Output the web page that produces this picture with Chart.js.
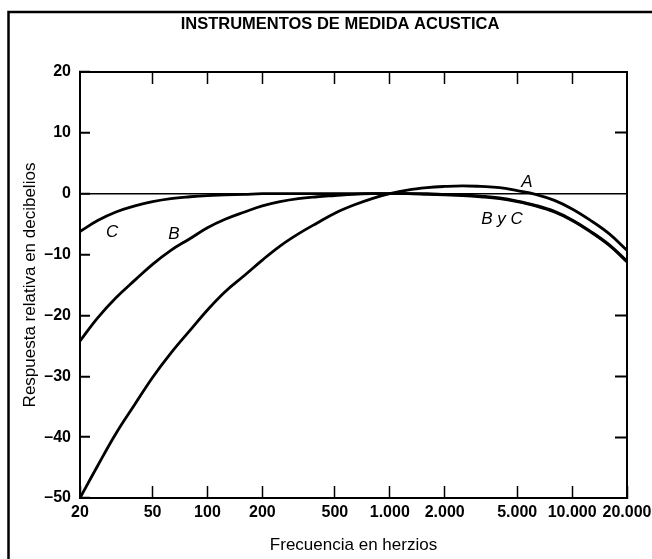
<!DOCTYPE html>
<html>
<head>
<meta charset="utf-8">
<title>Instrumentos de medida acustica</title>
<script src="https://cdn.jsdelivr.net/npm/chart.js@4.4.1/dist/chart.umd.min.js"></script>
<style>
  body { margin: 0; background: #fff; }
</style>
</head>
<body>
<canvas id="weighting" width="652" height="559"></canvas>
<script>
const frequencies = [20, 25, 31.5, 40, 50, 63, 80, 100, 125, 160, 200, 250, 315, 400, 500, 630, 800,
  1000, 1250, 1600, 2000, 2500, 3150, 4000, 5000, 6300, 8000, 10000, 12500, 16000, 20000];
const curveA = [-50, -44.7, -39.4, -34.6, -30.2, -26.2, -22.5, -19.1, -16.1, -13.4, -10.9, -8.6, -6.6, -4.8, -3.2, -1.9, -0.8,
  0, 0.6, 1.0, 1.2, 1.3, 1.2, 1.0, 0.5, -0.1, -1.1, -2.5, -4.3, -6.6, -9.3];
const curveB = [-24.2, -20.4, -17.1, -14.2, -11.6, -9.3, -7.4, -5.6, -4.2, -3.0, -2.0, -1.3, -0.8, -0.5, -0.3, -0.1, 0,
  0, 0, 0, -0.1, -0.2, -0.4, -0.7, -1.2, -1.9, -2.9, -4.3, -6.1, -8.4, -11.1];
const curveC = [-6.2, -4.4, -3.0, -2.0, -1.3, -0.8, -0.5, -0.3, -0.2, -0.1, 0, 0, 0, 0, 0, 0, 0,
  0, 0, -0.1, -0.2, -0.3, -0.5, -0.8, -1.3, -2.0, -3.0, -4.4, -6.2, -8.5, -11.2];

const xTicks = [20, 50, 100, 200, 500, 1000, 2000, 5000, 10000, 20000];
const xTickLabels = ['20', '50', '100', '200', '500', '1.000', '2.000', '5.000', '10.000', '20.000'];
const topTicks = [50, 100, 200, 500, 1000, 2000, 5000, 10000];
const yTicks = [20, 10, 0, -10, -20, -30, -40, -50];
const yTickLabels = ['20', '10', '0', '\u201310', '\u201320', '\u201330', '\u201340', '\u201350'];
const rightTicks = [10, -20, -30, -40];

// etiquetas de las curvas: [texto, Hz, dB]
const curveLabels = [
  ['A', 5660, 1.9],
  ['B y C', 4130, -4.2],
  ['C', 30, -6.4],
  ['B', 65.5, -6.7]
];

const FONT = '"Liberation Sans", Arial, sans-serif';

function toPoints(values) {
  return frequencies.map((f, i) => ({ x: f, y: values[i] }));
}

function curve(label, values) {
  return {
    label: label,
    data: toPoints(values),
    borderColor: '#000',
    borderWidth: 2.8,
    pointRadius: 0,
    fill: false,
    tension: 0.4
  };
}

const framePlugin = {
  id: 'frame',
  afterDraw(chart) {
    const ctx = chart.ctx;
    ctx.save();
    ctx.strokeStyle = '#000';
    ctx.lineWidth = 2.5;
    ctx.strokeRect(8.5, 12, 700, 600);
    ctx.restore();
  }
};

const curveLabelPlugin = {
  id: 'curveLabels',
  afterDatasetsDraw(chart) {
    const ctx = chart.ctx;
    const xs = chart.scales.x;
    const ys = chart.scales.y;
    ctx.save();
    ctx.fillStyle = '#000';
    ctx.font = 'italic 17px ' + FONT;
    ctx.textAlign = 'center';
    ctx.textBaseline = 'middle';
    for (const [text, hz, db] of curveLabels) {
      ctx.fillText(text, xs.getPixelForValue(hz), ys.getPixelForValue(db));
    }
    ctx.restore();
  }
};

new Chart(document.getElementById('weighting'), {
  type: 'line',
  data: {
    datasets: [curve('A', curveA), curve('B', curveB), curve('C', curveC)]
  },
  plugins: [curveLabelPlugin, framePlugin],
  options: {
    responsive: false,
    animation: false,
    layout: { padding: { left: 28, right: 0, top: 0, bottom: 0 } },
    plugins: {
      legend: { display: false },
      tooltip: { enabled: false },
      title: {
        display: true,
        text: 'INSTRUMENTOS DE MEDIDA ACUSTICA',
        color: '#000',
        font: { family: FONT, size: 16.5, weight: 'bold' },
        padding: { top: 15, bottom: 37.2 }
      }
    },
    scales: {
      x: {
        type: 'logarithmic',
        position: 'bottom',
        min: 20,
        max: 20000,
        afterBuildTicks: scale => { scale.ticks = xTicks.map(v => ({ value: v })); },
        afterFit: scale => {
          scale.height = 61;
          scale.paddingLeft = 0;
          scale.paddingRight = 0;
        },
        border: { color: '#000', width: 2 },
        grid: { drawOnChartArea: false, tickLength: -12, tickColor: '#000', tickWidth: 1.5 },
        ticks: {
          autoSkip: false,
          maxRotation: 0,
          padding: 17,
          color: '#000',
          font: { family: FONT, size: 16, weight: 'bold' },
          callback: value => xTickLabels[xTicks.indexOf(value)]
        },
        title: {
          display: true,
          text: 'Frecuencia en herzios',
          color: '#000',
          font: { family: FONT, size: 17 },
          padding: { top: 0, bottom: 3 }
        }
      },
      x2: {
        type: 'logarithmic',
        position: 'top',
        min: 20,
        max: 20000,
        afterBuildTicks: scale => { scale.ticks = topTicks.map(v => ({ value: v })); },
        afterFit: scale => { scale.height = 0; },
        border: { color: '#000', width: 2 },
        grid: { drawOnChartArea: false, tickLength: -12, tickColor: '#000', tickWidth: 1.5 },
        ticks: { display: false }
      },
      y: {
        type: 'linear',
        position: 'left',
        min: -50,
        max: 20,
        afterBuildTicks: scale => { scale.ticks = yTicks.map(v => ({ value: v })); },
        afterFit: scale => { scale.width = 52; },
        border: { color: '#000', width: 2 },
        grid: {
          drawOnChartArea: true,
          color: c => (c.tick && c.tick.value === 0 ? '#000' : 'rgba(0,0,0,0)'),
          lineWidth: 1.5,
          tickLength: -10,
          tickColor: '#000',
          tickWidth: 2
        },
        ticks: {
          padding: 19,
          color: '#000',
          font: { family: FONT, size: 16, weight: 'bold' },
          callback: value => yTickLabels[yTicks.indexOf(value)]
        },
        title: {
          display: true,
          text: 'Respuesta relativa en decibelios',
          color: '#000',
          font: { family: FONT, size: 17 },
          padding: { top: -8.2, bottom: 0 }
        }
      },
      y2: {
        type: 'linear',
        position: 'right',
        min: -50,
        max: 20,
        afterBuildTicks: scale => { scale.ticks = rightTicks.map(v => ({ value: v })); },
        afterFit: scale => { scale.width = 25; },
        border: { color: '#000', width: 2 },
        grid: { drawOnChartArea: false, tickLength: -12, tickColor: '#000', tickWidth: 2 },
        ticks: { display: false }
      }
    }
  }
});
</script>
</body>
</html>
